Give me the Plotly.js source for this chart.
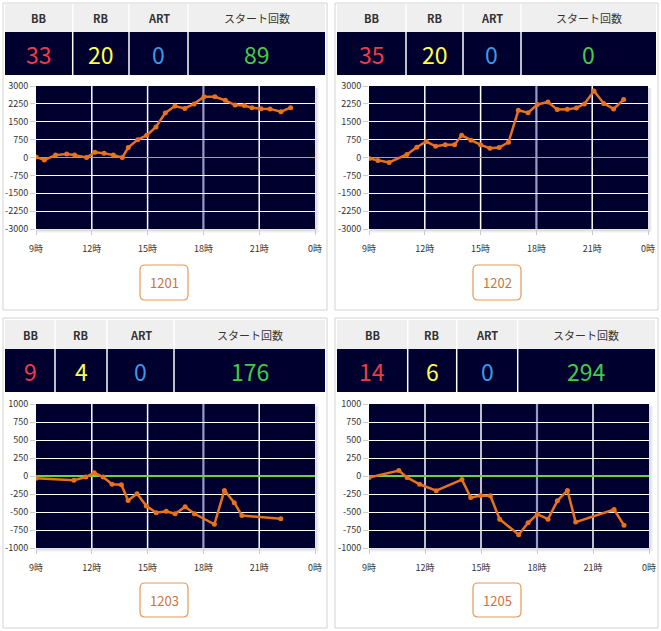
<!DOCTYPE html>
<html>
<head>
<meta charset="utf-8">
<script src="https://cdn.plot.ly/plotly-3.0.1.min.js"></script>
<style>
html,body{margin:0;padding:0;background:#fff;}
#chart{width:661px;height:631px;}
</style>
</head>
<body>
<div id="chart"></div>
<script>
// ---------- data ----------
const headerLabels = ['BB', 'RB', 'ART', 'スタート回数'];
const machineNos = ['1201', '1202', '1203', '1205'];
const bbCounts = [33, 35, 9, 14];
const rbCounts = [20, 20, 4, 6];
const artCounts = [0, 0, 0, 0];
const startCounts = [89, 0, 176, 294];

const xTickVals = [9, 12, 15, 18, 21, 24];
const xTickText = ['9時', '12時', '15時', '18時', '21時', '0時'];
const yTickValsTop = [-3000, -2250, -1500, -750, 0, 750, 1500, 2250, 3000];
const yTickTextTop = ['-3000', '-2250', '-1500', '-750', '0', '750', '1500', '2250', '3000'];
const yTickValsBottom = [-1000, -750, -500, -250, 0, 250, 500, 750, 1000];
const yTickTextBottom = ['-1000', '-750', '-500', '-250', '0', '250', '500', '750', '1000'];

const hours1201 = [9.0, 9.45, 10.05, 10.65, 11.08, 11.72, 12.17, 12.66, 13.16, 13.64, 13.96, 14.47, 14.95, 15.45, 15.95, 16.47, 17.0, 17.5, 18.03, 18.62, 19.18, 19.7, 20.2, 20.61, 21.1, 21.58, 22.17, 22.69];
const diff1201 = [20, -100, 100, 150, 100, 0, 220, 180, 100, 0, 420, 750, 930, 1280, 1870, 2160, 2060, 2250, 2550, 2550, 2400, 2200, 2180, 2090, 2050, 2040, 1920, 2090];

const hours1202 = [9.0, 9.48, 10.08, 11.04, 11.57, 12.08, 12.58, 13.1, 13.6, 13.98, 14.48, 15.0, 15.5, 16.0, 16.5, 17.03, 17.55, 18.05, 18.62, 19.12, 19.66, 20.15, 20.58, 21.1, 21.62, 22.15, 22.69];
const diff1202 = [-40, -125, -210, 130, 430, 670, 470, 530, 530, 930, 725, 530, 390, 420, 640, 1980, 1880, 2220, 2330, 2010, 2020, 2080, 2250, 2790, 2270, 2040, 2430];

const hours1203 = [9.0, 11.04, 11.68, 12.13, 12.61, 13.09, 13.59, 13.95, 14.43, 14.93, 15.46, 16.0, 16.48, 17.02, 17.52, 18.59, 19.13, 19.66, 20.07, 22.16];
const diff1203 = [-30, -60, -15, 45, -15, -115, -120, -340, -245, -415, -510, -490, -525, -427, -525, -670, -200, -370, -550, -595];

const hours1205 = [9.0, 10.6, 11.04, 11.71, 12.6, 13.98, 14.45, 14.98, 15.5, 16.0, 17.02, 17.52, 18.02, 18.59, 19.09, 19.63, 20.07, 22.13, 22.66];
const diff1205 = [-20, 75, -20, -115, -205, -50, -300, -270, -275, -600, -815, -650, -530, -600, -345, -200, -640, -465, -685];

// ---------- layout geometry (pixels) ----------
const W = 661, H = 631;
const px = x => x / W;
const py = y => 1 - y / H;

const panels = [
  {box: [3, 3, 327, 310], head: [4, 32], vals: [32, 75], cols: [5, 72.7, 129, 188, 325], plot: [36, 86, 315, 229], btn: [140, 265, 188, 300], yv: yTickValsTop, yt: yTickTextTop, yr: [-3000, 3000]},
  {box: [335, 3, 658, 310], head: [4, 32], vals: [32, 75], cols: [337, 406, 463, 521, 656], plot: [369, 86, 648, 229], btn: [473, 265, 521, 300], yv: yTickValsTop, yt: yTickTextTop, yr: [-3000, 3000]},
  {box: [3, 318, 327, 628], head: [320, 349], vals: [349, 392], cols: [5, 55, 107, 174, 325], plot: [36, 404, 315, 548], btn: [140, 583, 188, 617], yv: yTickValsBottom, yt: yTickTextBottom, yr: [-1000, 1000]},
  {box: [335, 318, 658, 628], head: [320, 349], vals: [349, 392], cols: [337, 407.7, 456.7, 517.7, 655], plot: [369, 404, 649, 548], btn: [473, 583, 521, 617], yv: yTickValsBottom, yt: yTickTextBottom, yr: [-1000, 1000]}
];

const seriesX = [hours1201, hours1202, hours1203, hours1205];
const seriesY = [diff1201, diff1202, diff1203, diff1205];
const valueLists = [bbCounts, rbCounts, artCounts, startCounts];
const valueColors = ['#ee3b4a', '#ffff4d', '#3a9ae8', '#44cc44'];

const NAVY = '#00002f';
const ORANGE = '#e8721c';
const FONT = '"Noto Sans CJK JP", "Noto Sans", sans-serif';

function roundRect(x0, y0, x1, y1, r) {
  const P = (x, y) => px(x).toFixed(5) + ',' + py(y).toFixed(5);
  return 'M' + P(x0 + r, y0) + ' L' + P(x1 - r, y0) + ' Q' + P(x1, y0) + ' ' + P(x1, y0 + r) +
    ' L' + P(x1, y1 - r) + ' Q' + P(x1, y1) + ' ' + P(x1 - r, y1) +
    ' L' + P(x0 + r, y1) + ' Q' + P(x0, y1) + ' ' + P(x0, y1 - r) +
    ' L' + P(x0, y0 + r) + ' Q' + P(x0, y0) + ' ' + P(x0 + r, y0) + ' Z';
}

const traces = [];
const shapes = [];
const annotations = [];
const layout = {
  width: W, height: H,
  margin: {l: 0, r: 0, t: 0, b: 0},
  paper_bgcolor: '#ffffff',
  plot_bgcolor: NAVY,
  showlegend: false,
  font: {family: FONT, size: 9, color: '#333'},
  shapes: shapes,
  annotations: annotations
};

panels.forEach((p, i) => {
  const n = i + 1;
  const xa = n === 1 ? 'x' : 'x' + n;
  const ya = n === 1 ? 'y' : 'y' + n;
  const xk = n === 1 ? 'xaxis' : 'xaxis' + n;
  const yk = n === 1 ? 'yaxis' : 'yaxis' + n;

  // outer panel border
  shapes.push({type: 'rect', xref: 'paper', yref: 'paper', layer: 'below',
    x0: px(p.box[0]), x1: px(p.box[2]), y0: py(p.box[1]), y1: py(p.box[3]),
    line: {color: '#d2d2d2', width: 1}, fillcolor: 'rgba(0,0,0,0)'});
  // header row background
  shapes.push({type: 'rect', xref: 'paper', yref: 'paper', layer: 'below',
    x0: px(p.cols[0]), x1: px(p.cols[4]), y0: py(p.head[0]), y1: py(p.head[1]),
    line: {width: 0}, fillcolor: '#efefef'});
  // value row background
  shapes.push({type: 'rect', xref: 'paper', yref: 'paper', layer: 'below',
    x0: px(p.cols[0]), x1: px(p.cols[4]), y0: py(p.vals[0]), y1: py(p.vals[1]),
    line: {width: 0}, fillcolor: NAVY});
  // column dividers
  for (let c = 1; c < 4; c++) {
    shapes.push({type: 'line', xref: 'paper', yref: 'paper', layer: 'above',
      x0: px(p.cols[c]), x1: px(p.cols[c]), y0: py(p.head[0]), y1: py(p.vals[1]),
      line: {color: '#ffffff', width: 1.5}});
  }
  // header labels + values
  for (let c = 0; c < 4; c++) {
    const cx = px((p.cols[c] + p.cols[c + 1]) / 2);
    annotations.push({xref: 'paper', yref: 'paper', x: cx, y: py((p.head[0] + p.head[1]) / 2),
      text: headerLabels[c], showarrow: false, xanchor: 'center', yanchor: 'middle',
      font: {family: FONT, size: 11, color: '#333', weight: c < 3 ? 700 : 400}});
    annotations.push({xref: 'paper', yref: 'paper', x: cx, y: py((p.vals[0] + p.vals[1]) / 2),
      text: String(valueLists[c][i]), showarrow: false, xanchor: 'center', yanchor: 'middle',
      font: {family: FONT, size: 23, color: valueColors[c]}});
  }
  // plot shadow
  for (let k = 1; k <= 3; k++) {
    const col = ['#c4c4c4', '#dcdcdc', '#ededed'][k - 1];
    shapes.push({type: 'line', xref: 'paper', yref: 'paper', layer: 'below',
      x0: px(p.plot[0] + 1), x1: px(p.plot[2] + k), y0: py(p.plot[3] + k), y1: py(p.plot[3] + k),
      line: {color: col, width: 1}});
    shapes.push({type: 'line', xref: 'paper', yref: 'paper', layer: 'below',
      x0: px(p.plot[2] + k), x1: px(p.plot[2] + k), y0: py(p.plot[1] + 2), y1: py(p.plot[3] + k),
      line: {color: col, width: 1}});
  }
  // vertical grid lines (18時 line drawn in lavender)
  xTickVals.slice(1, -1).forEach(v => {
    shapes.push({type: 'line', xref: xa, yref: ya + ' domain', layer: 'below',
      x0: v, x1: v, y0: 0, y1: 1,
      line: {color: v === 18 ? '#9a9ac4' : '#ffffff', width: v === 18 ? 2.2 : 1.5}});
  });
  // button
  shapes.push({type: 'path', xref: 'paper', yref: 'paper', layer: 'above',
    path: roundRect(p.btn[0], p.btn[1], p.btn[2], p.btn[3], 5),
    line: {color: '#e39a5a', width: 1.2}, fillcolor: '#ffffff'});
  annotations.push({xref: 'paper', yref: 'paper', x: px((p.btn[0] + p.btn[2]) / 2), y: py((p.btn[1] + p.btn[3]) / 2),
    text: machineNos[i], showarrow: false, xanchor: 'center', yanchor: 'middle',
    font: {family: FONT, size: 13, color: '#c8743c'}});

  layout[xk] = {
    domain: [px(p.plot[0]), px(p.plot[2])], anchor: ya,
    range: [9, 24], tickmode: 'array', tickvals: xTickVals, ticktext: xTickText,
    showgrid: false,
    ticks: 'outside', ticklen: 5, tickcolor: '#cccccc',
    zeroline: false, showline: false, fixedrange: true,
    tickfont: {family: FONT, size: 9, color: '#333'}, ticklabelstandoff: 6
  };
  layout[yk] = {
    domain: [py(p.plot[3]), py(p.plot[1])], anchor: xa,
    range: p.yr, tickmode: 'array', tickvals: p.yv, ticktext: p.yt,
    showgrid: true, gridcolor: '#ffffff', gridwidth: 1,
    ticks: 'outside', ticklen: 5, tickcolor: '#cccccc',
    zeroline: true, zerolinecolor: '#6fd048', zerolinewidth: 1.5,
    showline: false, fixedrange: true,
    tickfont: {family: FONT, size: 9, color: '#333'}
  };

  traces.push({
    type: 'scatter', mode: 'lines+markers', xaxis: xa, yaxis: ya,
    x: seriesX[i], y: seriesY[i],
    line: {color: ORANGE, width: 2.5},
    marker: {color: ORANGE, size: 5},
    hoverinfo: 'x+y'
  });
});

Plotly.newPlot('chart', traces, layout, {displayModeBar: false, staticPlot: true});
</script>
</body>
</html>
